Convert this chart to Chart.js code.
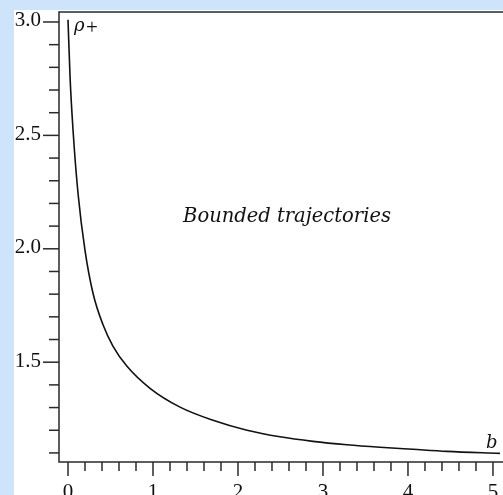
<!DOCTYPE html>
<html>
<head>
<meta charset="utf-8">
<script src="https://cdn.jsdelivr.net/npm/chart.js@4/dist/chart.umd.min.js"></script>
<style>
  html, body { margin: 0; padding: 0; background: #cde4fb; }
  #wrap { width: 503px; height: 495px; position: relative; }
</style>
</head>
<body>
<div id="wrap"><canvas id="rhoChart"></canvas></div>
<script>
// impact parameter b and the upper turning radius rho+
var bValues   = [0.0, 0.024, 0.059, 0.118, 0.2, 0.294, 0.412, 0.53, 0.694, 0.965, 1.318, 1.706, 2.106, 2.494, 2.882, 3.282, 3.671, 4.059, 4.459, 5.082]
var rhoValues = [3.01, 2.758, 2.524, 2.244, 1.993, 1.804, 1.665, 1.57, 1.482, 1.385, 1.302, 1.244, 1.2, 1.171, 1.151, 1.136, 1.125, 1.116, 1.107, 1.098]

// tick positions, labels only on the major ones
var xTicks = []
for (var i = 0; i <= 25; i++) xTicks.push(+(i * 0.2).toFixed(1))
var xLabels = [0, 1, 2, 3, 4, 5]
var yTicks = []
for (var j = 11; j <= 30; j++) yTicks.push(+(j * 0.1).toFixed(1))
var yLabels = [1.5, 2.0, 2.5, 3.0]

var points = bValues.map(function (b, k) { return { x: b, y: rhoValues[k] } })

var serif = '"Liberation Serif", "Times New Roman", serif'
var mathItalic = 'italic 18px "DejaVu Serif", serif'

// paper background + hand-drawn style axes
var paperAxes = {
    id: 'paperAxes',
    beforeDraw: function (chart) {
        var c = chart.ctx
        c.save()
        c.fillStyle = '#cde4fb'
        c.fillRect(0, 0, chart.width, chart.height)
        c.fillStyle = '#ffffff'
        c.fillRect(14, 10, chart.width - 14, chart.height - 10)
        c.restore()
    },
    afterDatasetsDraw: function (chart) {
        var c = chart.ctx
        var area = chart.chartArea
        var xs = chart.scales.x
        var ys = chart.scales.y
        c.save()
        c.strokeStyle = '#2a2a2a'
        c.lineWidth = 1.5

        // frame: top, left, bottom
        c.beginPath()
        c.moveTo(area.right, area.top)
        c.lineTo(area.left, area.top)
        c.lineTo(area.left, area.bottom)
        c.lineTo(area.right, area.bottom)
        c.stroke()

        // y ticks
        c.fillStyle = '#111'
        c.font = '21px ' + serif
        c.textAlign = 'right'
        c.textBaseline = 'middle'
        yTicks.forEach(function (v) {
            var py = ys.getPixelForValue(v)
            var major = yLabels.indexOf(v) >= 0
            c.beginPath()
            c.moveTo(area.left - (major ? 16 : 10), py)
            c.lineTo(area.left, py)
            c.stroke()
            if (major) c.fillText(v.toFixed(1), 41, py - 1)
        })

        // x ticks
        c.textAlign = 'center'
        c.textBaseline = 'top'
        xTicks.forEach(function (v) {
            var px = xs.getPixelForValue(v)
            var major = xLabels.indexOf(v) >= 0
            c.beginPath()
            c.moveTo(px, area.bottom)
            c.lineTo(px, area.bottom + (major ? 14 : 9))
            c.stroke()
            if (major) c.fillText(String(v), px, 482)
        })

        // axis names and annotation
        c.font = mathItalic
        c.textAlign = 'left'
        c.textBaseline = 'alphabetic'
        c.fillText('\u03C1', 74, 31)
        c.font = '21px ' + serif
        c.fillText('+', 86, 34)
        c.font = mathItalic
        c.fillText('b', 486, 448)
        c.font = 'italic 19.5px "DejaVu Serif", serif'
        c.textAlign = 'center'
        c.fillText('Bounded trajectories', 287, 222)
        c.restore()
    }
}

var ctx = document.getElementById('rhoChart').getContext('2d')

var chart = new Chart(ctx, {
    type: 'line',
    data: {
        datasets: [{
            label: 'rho+',
            data: points,
            borderColor: '#111',
            borderWidth: 1.6,
            pointRadius: 0,
            fill: false,
            cubicInterpolationMode: 'monotone'
        }]
    },
    options: {
        responsive: true,
        maintainAspectRatio: false,
        animation: false,
        layout: { padding: { top: 12, left: 59, right: 0, bottom: 33 } },
        plugins: { legend: { display: false }, tooltip: { enabled: false } },
        scales: {
            x: { type: 'linear', min: -0.106, max: 5.118, display: false },
            y: { type: 'linear', min: 1.06, max: 3.044, display: false }
        }
    },
    plugins: [paperAxes]
})
</script>
</body>
</html>
